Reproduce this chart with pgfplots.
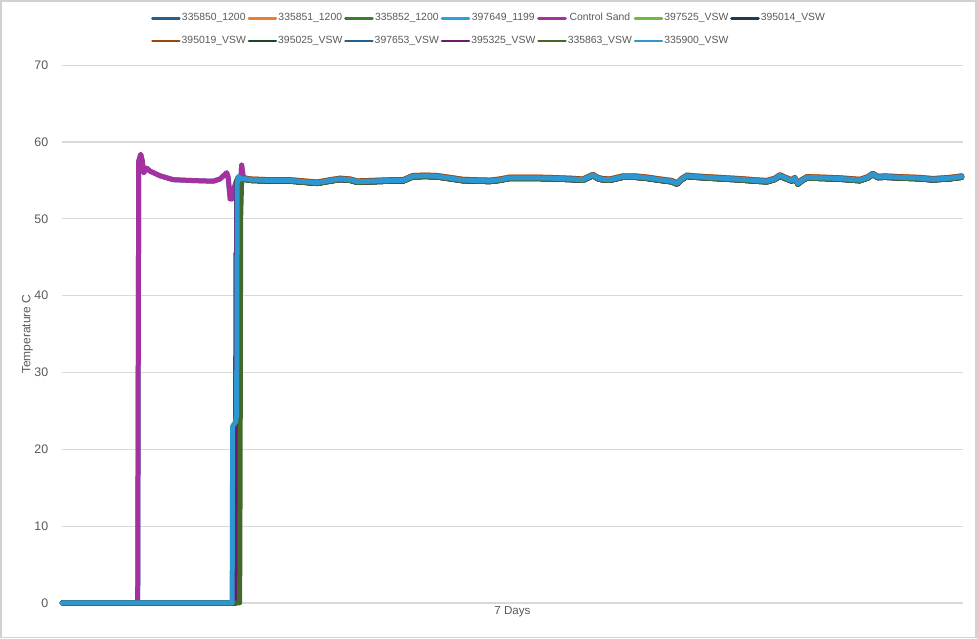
\documentclass[border=0pt]{standalone}
\usepackage{pgfplots}
\usepackage{pgfplotstable}
\pgfplotsset{compat=1.18}
\usepackage{fontspec}
\setmainfont{Liberation Sans}
\definecolor{txt}{HTML}{595959}
\definecolor{grd}{HTML}{D9D9D9}
\definecolor{cA}{HTML}{236192}
\definecolor{cB}{HTML}{ED7D31}
\definecolor{cC}{HTML}{3A7D2C}
\definecolor{cD}{HTML}{29A3DD}
\definecolor{cE}{HTML}{A5319E}
\definecolor{cF}{HTML}{6CBB3C}
\definecolor{cG}{HTML}{203A4F}
\definecolor{cH}{HTML}{9E480E}
\definecolor{cI}{HTML}{1E4620}
\definecolor{cJ}{HTML}{255E91}
\definecolor{cK}{HTML}{6A1B6A}
\definecolor{cL}{HTML}{43682B}
\definecolor{cM}{HTML}{2F97CF}
% x = position along the 7 days (pixel-like units), columns = temperature
\pgfplotstableread{
x     A     B     C     D     hi    lo
62    0     0     0     0     0     0
137.5 0     0     0     0     0     0
138.5 57.5  0     0     0     0     0
140.5 58.4  0     0     0     0     0
142   57.6  0     0     0     0     0
143.5 56.0  0     0     0     0     0
146.5 56.6  0     0     0     0     0
150   56.2  0     0     0     0     0
160   55.6  0     0     0     0     0
173   55.1  0     0     0     0     0
190   55.0  0     0     0     0     0
213   54.9  0     0     0     0     0
220   55.2  0     0     0     0     0
226.5 56.0  0     0     0     0     0
228   55.4  0     0     0     0     0
230   52.6  0     0     0     0     0
232   52.6  0     0     0     0     0
232.5 53.0  0     23.0  0     0     0
234   54.0  0     23.3  0     0     0
235.5 54.6  0     23.6  0     0     0
236.5 55.0  54.0  24.5  0     54.1  53.9
237   54.0  55.0  54.5  0     55.1  54.9
238   53.5  55.3  55.5  0     55.4  55.2
239.5 53.0  55.3  55.3  0     55.4  55.2
240   52.9  55.3  55.3  17.5  55.4  55.2
240.5 54.5  55.3  55.3  50.0  55.4  55.2
241.5 57.0  55.2  55.2  55.1  55.3  55.1
243   55.5  55.2  55.2  55.1  55.3  55.1
246   55.2  55.2  55.2  55.1  55.3  55.1
250   55.1  55.1  55.1  55.0  55.2  55.0
270   55.0  55.0  55.0  54.9  55.1  54.9
290   55.0  55.0  55.0  54.9  55.1  54.9
317   54.7  54.7  54.7  54.6  54.8  54.6
330   55.0  55.0  55.0  54.9  55.1  54.9
340   55.2  55.2  55.2  55.1  55.3  55.1
350   55.1  55.1  55.1  55.0  55.2  55.0
357   54.85 54.85 54.85 54.75 54.95 54.75
370   54.9  54.9  54.9  54.8  55.0  54.8
390   55.0  55.0  55.0  54.9  55.1  54.9
403   55.0  55.0  55.0  54.9  55.1  54.9
410   55.4  55.4  55.4  55.3  55.5  55.3
413   55.55 55.55 55.55 55.45 55.65 55.45
425   55.6  55.6  55.6  55.5  55.7  55.5
437   55.55 55.55 55.55 55.45 55.65 55.45
450   55.3  55.3  55.3  55.2  55.4  55.2
463   55.05 55.05 55.05 54.95 55.15 54.95
475   55.0  55.0  55.0  54.9  55.1  54.9
490   54.95 54.95 54.95 54.85 55.05 54.85
500   55.1  55.1  55.1  55.0  55.2  55.0
510   55.35 55.35 55.35 55.25 55.45 55.25
530   55.35 55.35 55.35 55.25 55.45 55.25
550   55.3  55.3  55.3  55.2  55.4  55.2
570   55.2  55.2  55.2  55.1  55.3  55.1
583   55.1  55.1  55.1  55.0  55.2  55.0
593   55.7  55.7  55.7  55.6  55.8  55.6
598   55.3  55.3  55.3  55.2  55.4  55.2
603   55.15 55.15 55.15 55.05 55.25 55.05
610   55.1  55.1  55.1  55.0  55.2  55.0
623   55.5  55.5  55.5  55.4  55.6  55.4
635   55.5  55.5  55.5  55.4  55.6  55.4
647   55.35 55.35 55.35 55.25 55.45 55.25
660   55.1  55.1  55.1  55.0  55.2  55.0
672   54.9  54.9  54.9  54.8  55.0  54.8
677   54.6  54.6  54.6  54.5  54.7  54.5
682   55.2  55.2  55.2  55.1  55.3  55.1
687   55.6  55.6  55.6  55.5  55.7  55.5
695   55.5  55.5  55.5  55.4  55.6  55.4
707   55.4  55.4  55.4  55.3  55.5  55.3
720   55.3  55.3  55.3  55.2  55.4  55.2
740   55.15 55.15 55.15 55.05 55.25 55.05
755   55.0  55.0  55.0  54.9  55.1  54.9
767   54.9  54.9  54.9  54.8  55.0  54.8
775   55.2  55.2  55.2  55.1  55.3  55.1
780   55.65 55.65 55.65 55.55 55.75 55.55
786   55.3  55.3  55.3  55.2  55.4  55.2
792   55.0  55.0  55.0  54.9  55.1  54.9
795   55.3  55.3  55.3  55.2  55.4  55.2
798   54.6  54.6  54.6  54.5  54.7  54.5
803   55.1  55.1  55.1  55.0  55.2  55.0
807   55.4  55.4  55.4  55.3  55.5  55.3
820   55.35 55.35 55.35 55.25 55.45 55.25
840   55.25 55.25 55.25 55.15 55.35 55.15
860   55.05 55.05 55.05 54.95 55.15 54.95
868   55.4  55.4  55.4  55.3  55.5  55.3
873   55.85 55.85 55.85 55.75 55.95 55.75
878   55.45 55.45 55.45 55.35 55.55 55.35
885   55.5  55.5  55.5  55.4  55.6  55.4
900   55.4  55.4  55.4  55.3  55.5  55.3
920   55.3  55.3  55.3  55.2  55.4  55.2
933   55.15 55.15 55.15 55.05 55.25 55.05
950   55.3  55.3  55.3  55.2  55.4  55.2
962   55.5  55.5  55.5  55.4  55.6  55.4
}\data
\begin{document}
\begin{tikzpicture}
\begin{axis}[
  scale only axis,
  width=450.5pt, height=269pt,
  xmin=62, xmax=963, ymin=0, ymax=70,
  xtick=\empty,
  ytick={0,10,...,70},
  ymajorgrids,
  grid style={grd, line width=0.6pt},
  axis line style={draw=none},
  major tick length=0pt,
  clip=false,
  tick label style={font=\fontsize{6.2}{7}\selectfont, text=txt},
  /pgf/number format/assume math mode=true,
  yticklabel style={xshift=-3.5pt},
  ylabel={Temperature C},
  ylabel style={at={(axis description cs:-0.0388,0.5)}, anchor=center, font=\fontsize{6}{7}\selectfont, text=txt},
  xlabel={7 Days},
  xlabel style={at={(axis description cs:0.5,-0.0167)}, anchor=center, font=\fontsize{5.8}{7}\selectfont, text=txt},
  legend columns=7,
  legend style={at={(axis description cs:0.4734,1.066)}, anchor=center, draw=none, fill=none,
    font=\fontsize{5.2}{6}\selectfont, text=txt, row sep=5pt,
    nodes={inner sep=0.5pt},
    /tikz/every even column/.append style={column sep=0.4pt}},
  legend image code/.code={\draw[#1, line width=1.3pt] (0pt,0pt) -- (13.5pt,0pt);},
  every axis plot/.append style={line width=2.5pt, line join=round, line cap=round},
]
\addplot[cA] table[x=x, y=B] {\data};
\addlegendentry{335850\_1200}
\addplot[cB] table[x=x, y=hi] {\data};
\addlegendentry{335851\_1200}
\addplot[cC] table[x=x, y=lo] {\data};
\addlegendentry{335852\_1200}
\addplot[cD] table[x=x, y=A] {\data};
\addlegendentry{397649\_1199}
\addplot[cE] table[x=x, y=A] {\data};
\addlegendentry{Control Sand}
\addplot[cF] table[x=x, y=B] {\data};
\addlegendentry{397525\_VSW}
\addplot[cG] table[x=x, y=lo] {\data};
\addlegendentry{395014\_VSW}
\addplot[cH] table[x=x, y=hi] {\data};
\addlegendentry{395019\_VSW}
\addplot[cI] table[x=x, y=lo] {\data};
\addlegendentry{395025\_VSW}
\addplot[cJ] table[x=x, y=B] {\data};
\addlegendentry{397653\_VSW}
\addplot[cK] table[x=x, y=lo] {\data};
\addlegendentry{395325\_VSW}
\addplot[cL] table[x=x, y=D] {\data};
\addlegendentry{335863\_VSW}
\addplot[cM] table[x=x, y=C] {\data};
\addlegendentry{335900\_VSW}
\draw[black!18, line width=0.8pt] (rel axis cs:-0.06826,-0.06413) rectangle (rel axis cs:1.01498,1.11989);
\end{axis}
\end{tikzpicture}
\end{document}
